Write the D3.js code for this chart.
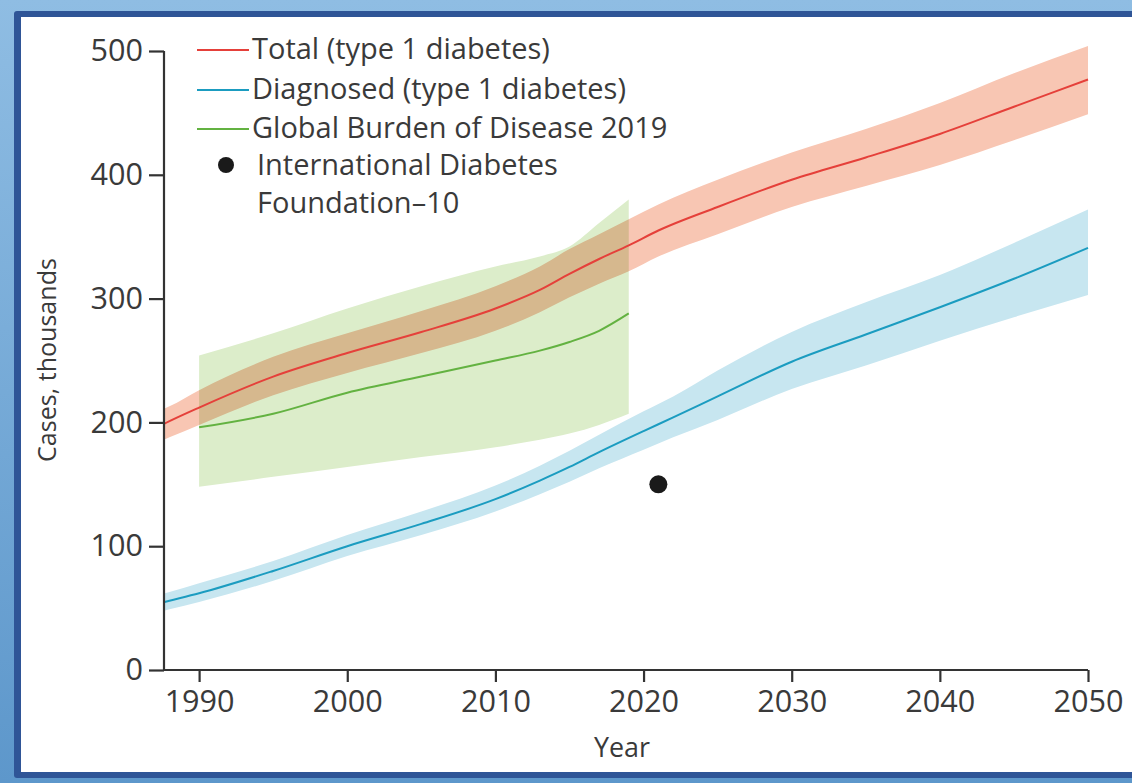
<!DOCTYPE html>
<html>
<head>
<meta charset="utf-8">
<script src="https://cdn.jsdelivr.net/npm/d3@7"></script>
<style>
  html, body { margin: 0; padding: 0; background: #fff; }
  svg { display: block; }
  text { font-family: "Open Sans", "Noto Sans", sans-serif; fill: #3a3a3a; }
</style>
</head>
<body>
<svg id="chart" width="1132" height="783"></svg>
<script>
// ---------- data ----------
const totalYears = [1987, 1988, 1990, 1995, 2000, 2005, 2010, 2013, 2015, 2017, 2019, 2021, 2025, 2030, 2035, 2040, 2045, 2050];
const totalMid   = [195, 201, 212, 237, 256, 273, 292, 307, 320, 332, 343, 355, 374, 396, 414, 433, 455, 477];
const totalLow   = [183, 188, 198, 222, 240, 256, 274, 289, 301, 312, 322, 334, 352, 374, 391, 408, 428, 449];
const totalHigh  = [208, 213, 226, 253, 272, 290, 310, 326, 340, 352, 364, 376, 396, 418, 437, 458, 482, 504];

const diagYears = [1987, 1988, 1990, 1995, 2000, 2005, 2010, 2013, 2015, 2017, 2020, 2022, 2025, 2030, 2035, 2040, 2045, 2050];
const diagMid   = [53, 56, 62, 80, 100, 118, 138, 153, 164, 176, 193, 204, 221, 249, 271, 293, 316, 341];
const diagLow   = [46, 49, 55, 72, 92, 109, 128, 142, 152, 163, 178, 188, 202, 227, 246, 266, 285, 303];
const diagHigh  = [60, 63, 70, 88, 109, 128, 149, 165, 177, 190, 209, 221, 242, 273, 297, 319, 345, 372];

const gbdYears = [1990, 1995, 2000, 2005, 2010, 2013, 2015, 2017, 2019];
const gbdMid   = [196, 207, 224, 237, 250, 258, 265, 274, 288];
const gbdLow   = [148, 156, 164, 172, 180, 186, 191, 198, 207];
const gbdHigh  = [254, 272, 292, 310, 326, 334, 342, 361, 380];

const idfYear = [2021];
const idfValue = [150];

const xTicks = [1990, 2000, 2010, 2020, 2030, 2040, 2050];
const yTicks = [0, 100, 200, 300, 400, 500];

const legendLabels = ["Total (type 1 diabetes)", "Diagnosed (type 1 diabetes)", "Global Burden of Disease 2019", "International Diabetes", "Foundation\u201310"];

// ---------- setup ----------
const W = 1132, H = 783;
const svg = d3.select("#chart");

// frame
const defs = svg.append("defs");
const g1 = defs.append("linearGradient").attr("id", "frameGrad").attr("x1", 0).attr("y1", 0).attr("x2", 0).attr("y2", 1);
g1.append("stop").attr("offset", "0%").attr("stop-color", "#8fbde3");
g1.append("stop").attr("offset", "100%").attr("stop-color", "#5d97cb");
svg.append("rect").attr("x", 0).attr("y", 0).attr("width", W).attr("height", H).attr("fill", "url(#frameGrad)");
svg.append("rect").attr("x", 14).attr("y", 11).attr("width", W - 14 + 10).attr("height", 767).attr("rx", 3).attr("fill", "#2f5597");
svg.append("rect").attr("x", 21).attr("y", 17).attr("width", W - 21 + 10).attr("height", 755).attr("fill", "#ffffff");

const pLeft = 164, pRight = 1088, pTop = 51, pBottom = 670;
const x = d3.scaleLinear().domain([1987.63, 2050]).range([pLeft, pRight]);
const y = d3.scaleLinear().domain([0, 500]).range([pBottom, pTop]);

defs.append("clipPath").attr("id", "plotClip")
  .append("rect").attr("x", pLeft).attr("y", 0).attr("width", pRight - pLeft + 2).attr("height", pBottom);

// helper for fitting a font size to a measured width
function fitSize(str, target, family) {
  const t = svg.append("text").attr("font-size", 100).style("font-family", family).text(str);
  const w = t.node().getComputedTextLength();
  t.remove();
  return 100 * target / w;
}
const fam = '"Open Sans", "Noto Sans", sans-serif';

const plot = svg.append("g").attr("clip-path", "url(#plotClip)");

function band(years, lo, hi) {
  const d = years.map((yr, i) => ({ yr, lo: lo[i], hi: hi[i] }));
  return d3.area().curve(d3.curveMonotoneX).x(p => x(p.yr)).y0(p => y(p.lo)).y1(p => y(p.hi))(d);
}
function line(years, v) {
  const d = years.map((yr, i) => ({ yr, v: v[i] }));
  return d3.line().curve(d3.curveMonotoneX).x(p => x(p.yr)).y(p => y(p.v))(d);
}

// bands
plot.append("path").attr("d", band(diagYears, diagLow, diagHigh)).attr("fill", "#c7e6f0");
plot.append("path").attr("d", band(totalYears, totalLow, totalHigh)).attr("fill", "#f8c6b3");
plot.append("path").attr("d", band(gbdYears, gbdLow, gbdHigh)).attr("fill", "#dcedca").style("mix-blend-mode", "multiply");

// lines
plot.append("path").attr("d", line(diagYears, diagMid)).attr("fill", "none").attr("stroke", "#1b9cc0").attr("stroke-width", 2);
plot.append("path").attr("d", line(gbdYears, gbdMid)).attr("fill", "none").attr("stroke", "#63b241").attr("stroke-width", 2);
plot.append("path").attr("d", line(totalYears, totalMid)).attr("fill", "none").attr("stroke", "#e5403a").attr("stroke-width", 2);

// IDF point
svg.selectAll("circle.idf").data(idfYear).enter().append("circle")
  .attr("class", "idf").attr("cx", d => x(d)).attr("cy", (d, i) => y(idfValue[i])).attr("r", 9).attr("fill", "#1a1a1a");

// axes
const tickFont = fitSize("1990", 70, fam);
const yAxis = d3.axisLeft(y).tickValues(yTicks).tickSize(15).tickPadding(6).tickFormat(d3.format("d"));
const yg = svg.append("g").attr("transform", `translate(${pLeft},0)`).call(yAxis);
const xAxis = d3.axisBottom(x).tickValues(xTicks).tickSize(12).tickPadding(8).tickFormat(d3.format("d"));
const xg = svg.append("g").attr("transform", `translate(0,${pBottom})`).call(xAxis);
[yg, xg].forEach(g => {
  g.select(".domain").attr("stroke", "#333").attr("stroke-width", 2.2);
  g.selectAll(".tick line").attr("stroke", "#333").attr("stroke-width", 2.2);
  g.selectAll(".tick text").attr("font-size", tickFont).style("font-family", fam).attr("fill", "#3a3a3a");
});
yg.select(".domain").attr("d", `M0,${pTop}V${pBottom}`);
xg.select(".domain").attr("d", `M${pLeft},0H${pRight}`);

// axis titles
const yTitleSize = fitSize("Cases, thousands", 204, fam);
svg.append("text").attr("transform", `translate(56,360) rotate(-90)`)
  .attr("text-anchor", "middle").attr("font-size", yTitleSize).style("font-family", fam).text("Cases, thousands");
const xTitleSize = fitSize("Year", 56, fam);
svg.append("text").attr("x", 622).attr("y", 757)
  .attr("text-anchor", "middle").attr("font-size", xTitleSize).style("font-family", fam).text("Year");

// legend
const legSize = fitSize(legendLabels[0], 298, fam);
const legColors = ["#e5403a", "#1b9cc0", "#63b241"];
const rowY = [49, 89, 128, 165, 203];
const leg = svg.append("g");
legColors.forEach((c, i) => {
  leg.append("line").attr("x1", 197).attr("x2", 249).attr("y1", rowY[i] + 1).attr("y2", rowY[i] + 1)
    .attr("stroke", c).attr("stroke-width", 2);
});
leg.append("circle").attr("cx", 226).attr("cy", rowY[3]).attr("r", 8).attr("fill", "#1a1a1a");
legendLabels.forEach((t, i) => {
  leg.append("text").attr("x", i < 3 ? 252 : 257).attr("y", rowY[i]).attr("dy", "0.35em")
    .attr("font-size", legSize).style("font-family", fam).text(t);
});
</script>
</body>
</html>
